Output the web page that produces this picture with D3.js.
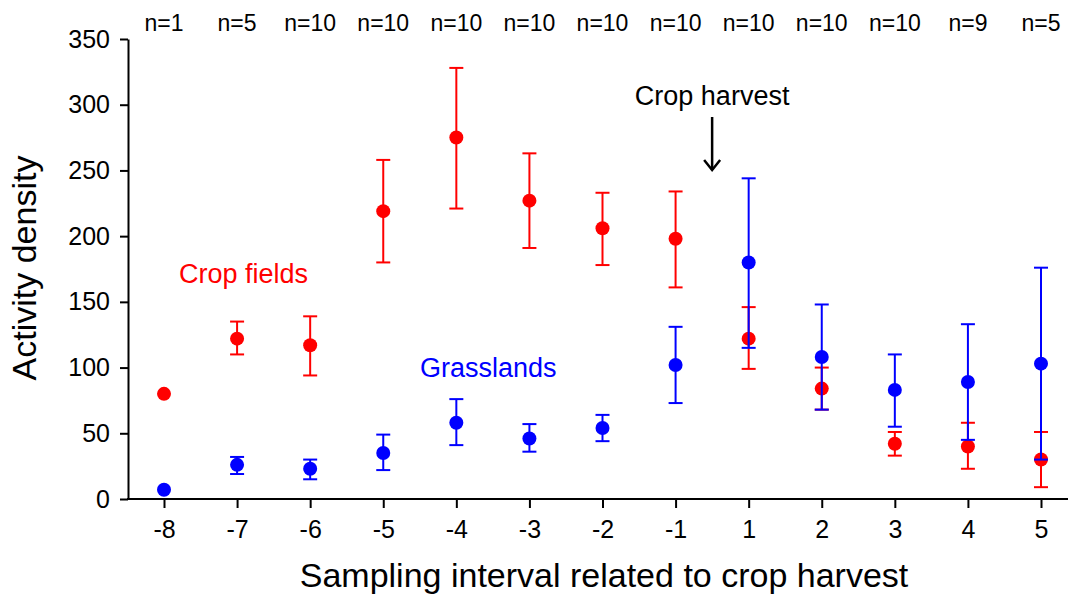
<!DOCTYPE html>
<html>
<head>
<meta charset="utf-8">
<script src="https://cdn.jsdelivr.net/npm/d3@7"></script>
<style>
  html, body { margin: 0; padding: 0; background: #fff; }
  svg { display: block; font-family: "Liberation Sans", Arial, sans-serif; }
</style>
</head>
<body>
<svg id="chart" width="1068" height="594"></svg>
<script>
// Sampling intervals relative to crop harvest
const intervals = ["-8", "-7", "-6", "-5", "-4", "-3", "-2", "-1", "1", "2", "3", "4", "5"];
const sampleSizes = ["n=1", "n=5", "n=10", "n=10", "n=10", "n=10", "n=10", "n=10", "n=10", "n=10", "n=10", "n=9", "n=5"];

// Crop fields: mean, lower and upper error limits (null where n=1)
const cropMean  = [80, 122, 117, 219, 275, 227, 206, 198, 122, 84, 42, 40, 30];
const cropLow   = [null, 110, 94, 180, 221, 191, 178, 161, 99, 68, 33, 23, 9];
const cropHigh  = [null, 135, 139, 258, 328, 263, 233, 234, 146, 100, 51, 58, 51];

// Grasslands: mean, lower and upper error limits
const grassMean = [7, 26, 23, 35, 58, 46, 54, 102, 180, 108, 83, 89, 103];
const grassLow  = [null, 19, 15, 22, 41, 36, 44, 73, 115, 68, 55, 45, 30];
const grassHigh = [null, 32, 30, 49, 76, 57, 64, 131, 244, 148, 110, 133, 176];

const yTicks = [0, 50, 100, 150, 200, 250, 300, 350];

const FONT = "Liberation Sans, Arial, sans-serif";
const svg = d3.select("#chart");

const x = d3.scalePoint().domain(intervals).range([164, 1041]);
const y = d3.scaleLinear().domain([0, 350]).range([499, 39]);
const axisLeftX = 128;

// Axes
const yAxis = svg.append("g")
  .attr("transform", `translate(${axisLeftX},0)`)
  .attr("font-size", 25).attr("font-family", FONT)
  .call(d3.axisLeft(y).tickValues(yTicks).tickSize(8).tickPadding(10).tickSizeOuter(0));
yAxis.attr("font-size", 25).attr("font-family", FONT);
yAxis.select(".domain").attr("stroke", "#000").attr("stroke-width", 2);
yAxis.selectAll(".tick line").attr("stroke", "#000").attr("stroke-width", 2);
yAxis.selectAll(".tick text").attr("fill", "#000");

const xAxis = svg.append("g")
  .attr("transform", `translate(0,${y(0)})`)
  .call(d3.axisBottom(x).tickSize(9).tickPadding(12).tickSizeOuter(0));
xAxis.attr("font-size", 25).attr("font-family", FONT);
xAxis.select(".domain").remove();
xAxis.selectAll(".tick line").attr("stroke", "#000").attr("stroke-width", 2);
xAxis.selectAll(".tick text").attr("fill", "#000");
svg.append("line")
  .attr("x1", axisLeftX - 1).attr("x2", 1068)
  .attr("y1", y(0)).attr("y2", y(0))
  .attr("stroke", "#000").attr("stroke-width", 2);

// Axis titles
svg.append("text")
  .attr("transform", `translate(36,${(y(0) + y(350)) / 2 - 1}) rotate(-90)`)
  .attr("text-anchor", "middle")
  .attr("font-size", 34)
  .text("Activity density");

svg.append("text")
  .attr("x", 604).attr("y", 587)
  .attr("text-anchor", "middle")
  .attr("font-size", 34)
  .text("Sampling interval related to crop harvest");

// Sample sizes above each interval
svg.append("g").selectAll("text")
  .data(intervals)
  .join("text")
  .attr("x", d => x(d))
  .attr("y", 31)
  .attr("text-anchor", "middle")
  .attr("font-size", 23)
  .text((d, i) => sampleSizes[i]);

// Mean ± error series
function drawSeries(mean, low, high, color) {
  const g = svg.append("g");
  const cap = 7;
  intervals.forEach((d, i) => {
    const cx = x(d);
    if (low[i] !== null && high[i] !== null) {
      g.append("line")
        .attr("x1", cx).attr("x2", cx)
        .attr("y1", y(low[i])).attr("y2", y(high[i]))
        .attr("stroke", color).attr("stroke-width", 2);
      [low[i], high[i]].forEach(v => {
        g.append("line")
          .attr("x1", cx - cap).attr("x2", cx + cap)
          .attr("y1", y(v)).attr("y2", y(v))
          .attr("stroke", color).attr("stroke-width", 2);
      });
    }
  });
  g.selectAll("circle")
    .data(intervals)
    .join("circle")
    .attr("cx", d => x(d))
    .attr("cy", (d, i) => y(mean[i]))
    .attr("r", 7)
    .attr("fill", color);
}

drawSeries(cropMean, cropLow, cropHigh, "#ff0000");
drawSeries(grassMean, grassLow, grassHigh, "#0000ff");

// Series labels
svg.append("text")
  .attr("x", 179).attr("y", 283)
  .attr("font-size", 27).attr("fill", "#ff0000")
  .text("Crop fields");
svg.append("text")
  .attr("x", 420).attr("y", 377)
  .attr("font-size", 27).attr("fill", "#0000ff")
  .text("Grasslands");

// Harvest marker between intervals -1 and 1
const harvestX = (x("-1") + x("1")) / 2;
svg.append("text")
  .attr("x", harvestX).attr("y", 105)
  .attr("text-anchor", "middle")
  .attr("font-size", 27)
  .text("Crop harvest");
svg.append("line")
  .attr("x1", harvestX).attr("x2", harvestX)
  .attr("y1", 117).attr("y2", 170)
  .attr("stroke", "#000").attr("stroke-width", 2.5);
svg.append("path")
  .attr("d", `M${harvestX - 8},${160} L${harvestX},${170} L${harvestX + 8},${160}`)
  .attr("fill", "none").attr("stroke", "#000").attr("stroke-width", 2.5);
</script>
</body>
</html>
